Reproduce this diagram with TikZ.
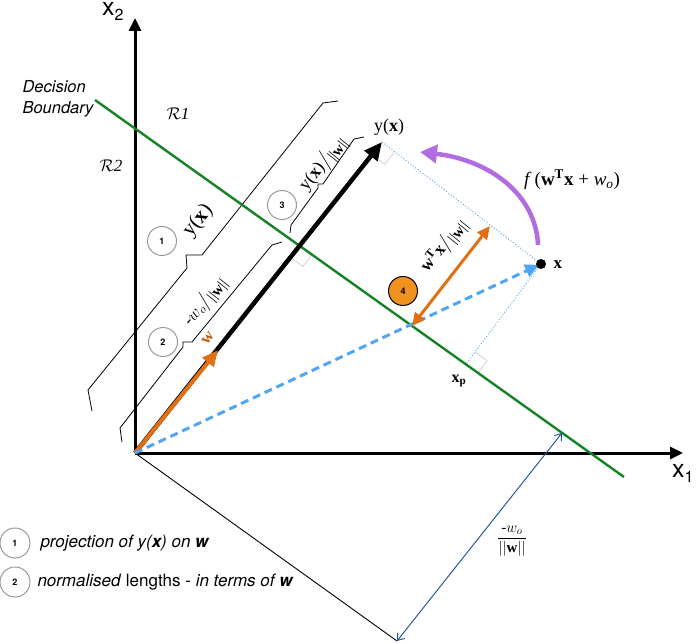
\RequirePackage{fix-cm}
\documentclass[tikz,border=0pt]{standalone}
\usepackage{amsmath,amssymb}
\usepackage{xcolor}
\usepackage{fontspec}
\setmainfont{Liberation Serif}
\setsansfont{TeX Gyre Heros}
\usetikzlibrary{shapes,arrows,positioning,calc,arrows.meta}

\definecolor{bndgreen}{RGB}{22,130,38}
\definecolor{worange}{RGB}{224,112,20}
\definecolor{circorange}{RGB}{242,146,30}
\definecolor{dashblue}{RGB}{80,165,245}
\definecolor{arcpurple}{RGB}{178,108,226}
\definecolor{distblue}{RGB}{40,90,155}
\definecolor{wbrown}{RGB}{190,95,15}

\newcommand{\fsz}[1]{\fontsize{#1}{#1}\selectfont}
\newcommand{\normw}{\raisebox{-3pt}{\fsz{15}||\textbf{w}||}}

\tikzset{
    axisarrow/.style={line width=3pt,-{Triangle[length=13pt,width=12pt]}},
    brace/.style={line width=0.8pt},
    numcirc/.style={circle,draw=gray!80,line width=1pt,minimum size=29pt,inner sep=0pt,font=\sffamily\bfseries\fsz{9}},
    rightang/.style={draw=gray!45,line width=0.6pt},
    projline/.style={dashblue,line width=0.9pt,dash pattern=on 1pt off 2pt},
}

\begin{document}
\begin{tikzpicture}[x=1pt,y=-1pt]
    \useasboundingbox (0,0) rectangle (696,644);
    % points
    \coordinate (O) at (135,453);
    \coordinate (x1tip) at (683,453);
    \coordinate (x2tip) at (135,18);
    \coordinate (yx) at (382,142);
    \coordinate (wtip) at (218,350);
    \coordinate (xpt) at (541,264);
    \coordinate (xp) at (466,364);
    \coordinate (db1) at (95,100);
    \coordinate (db2) at (624,477);
    \coordinate (cross) at (300,246);
    \coordinate (bnear) at (412,326);
    \coordinate (bfar) at (490,226);
    \coordinate (bfoot) at (397,641);
    \coordinate (bhit) at (562,433);
    \coordinate (arcstart) at (538,245);
    \coordinate (arcend) at (420,152);

    % braces
    \draw[brace] (92,411) -- (88,390) -- (187,268) -- (186,255) -- (202,255) -- (323,103) -- (338,101);
    \draw[brace] (122,442) -- (120,428) -- (183,347) -- (183,342) -- (192,342) -- (272,245) -- (282,242);
    \draw[brace] (290,233) -- (291,225) -- (318,188) -- (318,184) -- (323,184) -- (354,139) -- (364,137);

    % right angles
    \coordinate (ra1) at ($(yx)!16pt!(xpt)$);
    \coordinate (ra2) at ($(yx)!16pt!(O)$);
    \draw[rightang] (ra1) -- ($(ra1)+(ra2)-(yx)$) -- (ra2);
    \coordinate (rb1) at ($(cross)!15pt!(db2)$);
    \coordinate (rb2) at ($(cross)!15pt!(O)$);
    \draw[rightang] (rb1) -- ($(rb1)+(rb2)-(cross)$) -- (rb2);
    \coordinate (rc1) at ($(xp)!15pt!(xpt)$);
    \coordinate (rc2) at ($(xp)!15pt!(db2)$);
    \draw[rightang] (rc1) -- ($(rc1)+(rc2)-(xp)$) -- (rc2);

    % axes
    \draw[axisarrow] (O) -- (x2tip);
    \draw[axisarrow] (O) -- (x1tip);
    \node[font=\sffamily\fsz{25},inner sep=0pt,anchor=base west] (x2lab) at (102,16) {x\raisebox{-5pt}{\fsz{16}2}};
    \node[font=\sffamily\fsz{25},inner sep=0pt,anchor=base west] (x1lab) at (672,477) {x\raisebox{-5pt}{\fsz{16}1}};

    % decision boundary
    \draw[bndgreen,line width=2.4pt] (db1) -- (db2);
    \node[font=\sffamily\itshape\fontsize{16.5}{21}\selectfont,align=left,anchor=west] (dblabel) at (19,99) {Decision\\Boundary};
    \node (r1) at (178,114) {\fsz{17}$\mathcal{R}\mathit{1}$};
    \node (r2) at (111,166) {\fsz{17}$\mathcal{R}\mathit{2}$};

    % projection lines
    \draw[projline] (yx) -- (xpt);
    \draw[projline] (xpt) -- (xp);
    \draw[line width=0.9pt] (O) -- (bfoot);
    \draw[distblue,line width=1pt,{Straight Barb[length=6pt,width=9pt]}-{Straight Barb[length=6pt,width=9pt]}] (bfoot) -- (bhit);
    \node (fraclab) at (512,541) {\fsz{15}$\displaystyle\frac{\mbox{-}w_o}{||\mathbf{w}||}$};

    % vectors
    \draw[line width=4.5pt,-{Triangle[length=18pt,width=16pt]}] (O) -- (yx);
    \draw[worange,line width=4pt,-{Triangle[length=16pt,width=14pt]}] (O) -- (wtip);
    \draw[dashblue,line width=3pt,dash pattern=on 8pt off 5pt,-{Triangle[length=14pt,width=13pt]},shorten >=2pt] (O) -- (xpt);
    \draw[worange,line width=3pt,{Triangle[length=13pt,width=12pt]}-{Triangle[length=13pt,width=12pt]}] (bnear) -- (bfar);
    \draw[arcpurple,line width=4.5pt,-{Triangle[length=17pt,width=18pt]}] (arcstart) .. controls (536,195) and (490,160) .. (arcend);
    \fill (xpt) circle (5pt);

    % labels
    \node[anchor=west] (xlab) at (550,265) {\fsz{17}\textbf{x}};
    \node (xplab) at (459,381) {\fsz{16}\textbf{x\textsubscript{p}}};
    \node (yxlab) at (389,127) {\fsz{18}y(\textbf{x})};
    \node (flab) at (572,180) {\fsz{19}\textit{f}\,(\textbf{w\textsuperscript{T}x} + \textit{w\textsubscript{o}})};
    \node[rotate=51,inner sep=1pt] (lab1) at (198,221) {\fsz{21}y(\textbf{x})};
    \node[rotate=51,inner sep=1pt] (lab3) at (323,164) {\fsz{18}y(\textbf{x})$\big/$\normw};
    \node[rotate=51,inner sep=1pt] (lab2) at (205,302) {\fsz{17}-$w_o$$\big/$\normw};
    \node[rotate=51,text=wbrown,inner sep=1pt] (wlab) at (208,338) {\fsz{17}\textbf{w}};
    \node[rotate=51,inner sep=1pt] (lab4) at (444,246) {\fsz{17}\textbf{w\textsuperscript{T}x}$\big/$\normw};

    % numbered circles
    \node[numcirc] (c1) at (162,241) {1};
    \node[numcirc] (c2) at (163,342) {2};
    \node[numcirc] (c3) at (282,205) {3};
    \node[numcirc,fill=circorange,draw=black] (c4) at (403,291) {4};

    % legend
    \node[numcirc,minimum size=30pt] (l1) at (15,543) {1};
    \node[numcirc,minimum size=30pt] (l2) at (15,582) {2};
    \node[anchor=west,font=\sffamily\fsz{17}] (l1txt) at (37,543) {\itshape projection of y(\textbf{x}) on \textbf{w}};
    \node[anchor=west,font=\sffamily\fsz{17}] (l2txt) at (34,582) {\textit{normalised} lengths - \textit{in terms of \textbf{w}}};
\end{tikzpicture}
\end{document}
